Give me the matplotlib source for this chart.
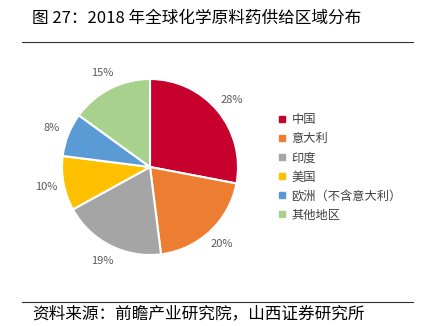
import matplotlib.pyplot as plt
from matplotlib.lines import Line2D

plt.rcParams['font.family'] = ['Noto Sans CJK SC', 'DejaVu Sans']

regions = ["中国", "意大利", "印度", "美国", "欧洲（不含意大利）", "其他地区"]
shares = [28, 20, 19, 10, 8, 15]
colors = ["#C8002D", "#ED7D31", "#A5A5A5", "#FFC000", "#5B9BD5", "#A9D18E"]

W, H = 427, 326
fig = plt.figure(figsize=(W / 100, H / 100), dpi=100)

# pie axes: centre (150,167), radius 88 px
cx, cy, r = 150, 167, 88
ax = fig.add_axes([(cx - r) / W, (H - cy - r) / H, 2 * r / W, 2 * r / H])
ax.pie(shares, colors=colors, startangle=90, counterclock=False,
       autopct="%d%%", pctdistance=1.2, radius=1,
       wedgeprops=dict(edgecolor="white", linewidth=1.5),
       textprops=dict(color="#595959", fontsize=8))
ax.set_xlim(-1, 1)
ax.set_ylim(-1, 1)
ax.set_aspect("equal")
ax.axis("off")

handles = [Line2D([0], [0], marker="s", linestyle="", markersize=5,
                  markerfacecolor=c, markeredgecolor=c) for c in colors]
fig.legend(handles, regions, loc="upper left", bbox_to_anchor=(272 / W, 1 - 107 / H),
           frameon=False, fontsize=8.8, labelcolor="#404040", handlelength=0.7,
           handletextpad=0.4, labelspacing=0.5, borderpad=0)

fig.text(32 / W, 1 - 18 / H, "图 27：2018 年全球化学原料药供给区域分布",
         fontsize=12, va="center", ha="left", color="black")
fig.add_artist(Line2D([22 / W, 413 / W], [1 - 42 / H, 1 - 42 / H], color="#333333", linewidth=0.8))
fig.add_artist(Line2D([22 / W, 413 / W], [1 - 302 / H, 1 - 302 / H], color="#333333", linewidth=0.8))
fig.text(32 / W, 1 - 314 / H, "资料来源：前瞻产业研究院，山西证券研究所",
         fontsize=12, va="center", ha="left", color="black")

fig.savefig("out.png", dpi=100)
